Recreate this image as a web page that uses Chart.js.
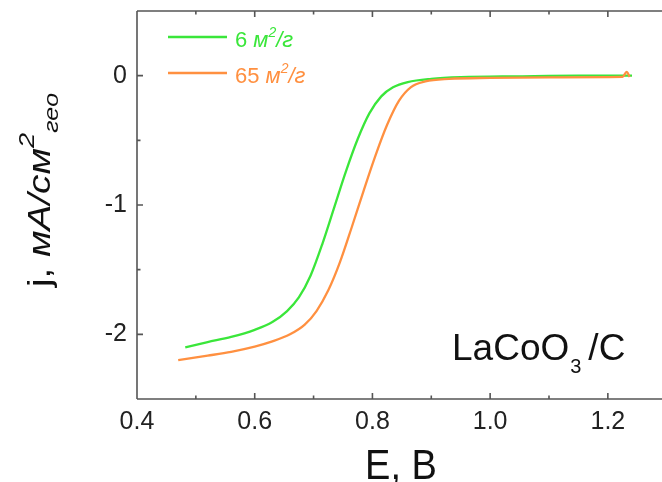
<!DOCTYPE html>
<html>
<head>
<meta charset="utf-8">
<script src="https://cdn.jsdelivr.net/npm/chart.js@4"></script>
<style>
html, body { margin: 0; padding: 0; background: #fff; overflow: hidden; }
#wrap { width: 662px; height: 482px; }
</style>
</head>
<body>
<div id="wrap"><canvas id="chart" width="662" height="482"></canvas></div>
<script>
// Polarisation curves, E in V, j in mA/cm2 (geometric)
const E_6  = [0.482, 0.52, 0.56, 0.60, 0.63, 0.655, 0.675, 0.695, 0.715, 0.735, 0.755, 0.775, 0.795, 0.815, 0.835, 0.86, 0.90, 0.95, 1.05, 1.15, 1.241];
const J_6  = [-2.10, -2.06, -2.02, -1.965, -1.905, -1.82, -1.715, -1.545, -1.30, -1.02, -0.74, -0.49, -0.29, -0.16, -0.09, -0.05, -0.025, -0.012, -0.005, 0.0, 0.0];
const E_65 = [0.470, 0.52, 0.56, 0.60, 0.63, 0.66, 0.685, 0.705, 0.725, 0.745, 0.765, 0.785, 0.805, 0.825, 0.845, 0.865, 0.89, 0.93, 1.0, 1.1, 1.225, 1.232, 1.237];
const J_65 = [-2.20, -2.165, -2.135, -2.095, -2.055, -2.00, -1.925, -1.82, -1.66, -1.44, -1.17, -0.89, -0.62, -0.38, -0.195, -0.09, -0.045, -0.025, -0.017, -0.013, -0.01, 0.03, -0.01];

const X_TICKS  = [0.4, 0.5, 0.6, 0.7, 0.8, 0.9, 1.0, 1.1, 1.2];
const X_LABELS = [0.4, 0.6, 0.8, 1.0, 1.2];
const Y_TICKS  = [-2.5, -2, -1.5, -1, -0.5, 0, 0.5];
const Y_LABELS = [-2, -1, 0];

const SERIES_NAMES = ['6', '65'];
const GREEN  = '#3ae63a';
const ORANGE = '#ff9040';
const FONT = '"Liberation Sans", Arial, sans-serif';

function toPoints(xs, ys) {
    return xs.map((x, i) => ({ x: x, y: ys[i] }));
}

function isIn(list, v) {
    return list.some(t => Math.abs(t - v) < 1e-6);
}

// unlabeled ticks get a tiny font so they add no layout padding
function tickFont(list) {
    return c => ({ size: (c.tick && isIn(list, c.tick.value)) ? 25 : 1, family: FONT });
}

// draw a run of text pieces (normal / italic / super / sub) from x,y baseline
function drawParts(ctx, x, y, parts, color) {
    ctx.fillStyle = color;
    ctx.textBaseline = 'alphabetic';
    ctx.textAlign = 'left';
    parts.forEach(p => {
        ctx.font = (p.italic ? 'italic ' : '') + p.size + 'px ' + FONT;
        ctx.fillText(p.t, x, y + (p.dy || 0));
        x += ctx.measureText(p.t).width + (p.gap || 0);
    });
    return x;
}

function partsWidth(ctx, parts) {
    let w = 0;
    parts.forEach(p => {
        ctx.font = (p.italic ? 'italic ' : '') + p.size + 'px ' + FONT;
        w += ctx.measureText(p.t).width + (p.gap || 0);
    });
    return w;
}

const framePlugin = {
    id: 'frame',
    afterDraw(chart) {
        const ctx = chart.ctx;
        const a = chart.chartArea;
        const xs = chart.scales.x, ys = chart.scales.y;
        ctx.save();
        ctx.strokeStyle = '#555';
        ctx.lineWidth = 1.6;
        ctx.beginPath();
        ctx.moveTo(a.left, a.top); ctx.lineTo(a.right + 2, a.top);
        ctx.moveTo(a.left, a.top); ctx.lineTo(a.left, a.bottom);
        ctx.moveTo(a.left, a.bottom); ctx.lineTo(a.right + 2, a.bottom);
        // inward ticks
        X_TICKS.forEach(v => {
            const px = xs.getPixelForValue(v);
            const len = isIn(X_LABELS, v) ? 6 : 3.5;
            ctx.moveTo(px, a.bottom); ctx.lineTo(px, a.bottom - len);
            ctx.moveTo(px, a.top); ctx.lineTo(px, a.top + len);
        });
        Y_TICKS.forEach(v => {
            const py = ys.getPixelForValue(v);
            const len = isIn(Y_LABELS, v) ? 6 : 3.5;
            ctx.moveTo(a.left, py); ctx.lineTo(a.left + len, py);
        });
        ctx.stroke();

        // legend
        const rows = [
            { name: SERIES_NAMES[0], color: GREEN, y: 37 },
            { name: SERIES_NAMES[1], color: ORANGE, y: 73 }
        ];
        rows.forEach(r => {
            ctx.strokeStyle = r.color;
            ctx.lineWidth = 2.5;
            ctx.beginPath();
            ctx.moveTo(168, r.y); ctx.lineTo(227, r.y);
            ctx.stroke();
            drawParts(ctx, 235, r.y + 10, [
                { t: r.name + ' ', size: 22 },
                { t: 'м', size: 22, italic: true },
                { t: '2', size: 14, dy: -10, italic: true },
                { t: '/г', size: 22, italic: true }
            ], r.color);
        });

        // annotation
        let x = drawParts(ctx, 452, 360, [{ t: 'LaCoO', size: 37 }], '#111');
        x = drawParts(ctx, x + 1, 373, [{ t: '3', size: 20 }], '#111');
        drawParts(ctx, x + 7, 360, [{ t: '/C', size: 37 }], '#111');

        // x title
        ctx.save();
        ctx.translate(401, 479);
        ctx.scale(1, 1.1);
        ctx.font = '38px ' + FONT;
        ctx.fillStyle = '#111';
        ctx.textAlign = 'center';
        ctx.textBaseline = 'alphabetic';
        ctx.fillText('E, B', 0, 0);
        ctx.restore();

        // y title, rotated
        const yParts = [
            { t: 'j, ', size: 31 },
            { t: 'мА/см', size: 31, italic: true },
            { t: '2', size: 22, dy: -16, italic: true },
            { t: 'гео', size: 20, dy: 8, italic: true }
        ];
        const w = partsWidth(ctx, yParts);
        ctx.save();
        ctx.translate(50, 287);
        ctx.rotate(-Math.PI / 2);
        ctx.scale(194 / w, 1);
        drawParts(ctx, 0, 0, yParts, '#111');
        ctx.restore();

        ctx.restore();
    }
};

new Chart(document.getElementById('chart'), {
    type: 'scatter',
    data: {
        datasets: [
            { label: SERIES_NAMES[1], data: toPoints(E_65, J_65), borderColor: ORANGE, showLine: true, borderWidth: 2.3, pointRadius: 0, cubicInterpolationMode: 'monotone' },
            { label: SERIES_NAMES[0], data: toPoints(E_6, J_6), borderColor: GREEN, showLine: true, borderWidth: 2.3, pointRadius: 0, cubicInterpolationMode: 'monotone' }
        ]
    },
    options: {
        responsive: false,
        animation: false,
        layout: { padding: { top: 11, right: 0, left: 0, bottom: 0 } },
        plugins: { legend: { display: false }, tooltip: { enabled: false } },
        scales: {
            x: {
                type: 'linear', min: 0.4, max: 1.292,
                grid: { display: false, drawTicks: false },
                border: { display: false },
                afterBuildTicks: s => { s.ticks = X_TICKS.map(v => ({ value: v })); },
                afterFit: s => { s.height = 83; },
                ticks: {
                    autoSkip: false, maxRotation: 0, padding: 8, color: '#222',
                    font: tickFont(X_LABELS),
                    callback: v => isIn(X_LABELS, v) ? v.toFixed(1) : ''
                }
            },
            y: {
                type: 'linear', min: -2.5, max: 0.5,
                grid: { display: false, drawTicks: false },
                border: { display: false },
                afterBuildTicks: s => { s.ticks = Y_TICKS.map(v => ({ value: v })); },
                afterFit: s => { s.width = 137; },
                ticks: {
                    autoSkip: false, padding: 10, color: '#222',
                    font: tickFont(Y_LABELS),
                    callback: v => isIn(Y_LABELS, v) ? String(v) : ''
                }
            }
        }
    },
    plugins: [framePlugin]
});
</script>
</body>
</html>
